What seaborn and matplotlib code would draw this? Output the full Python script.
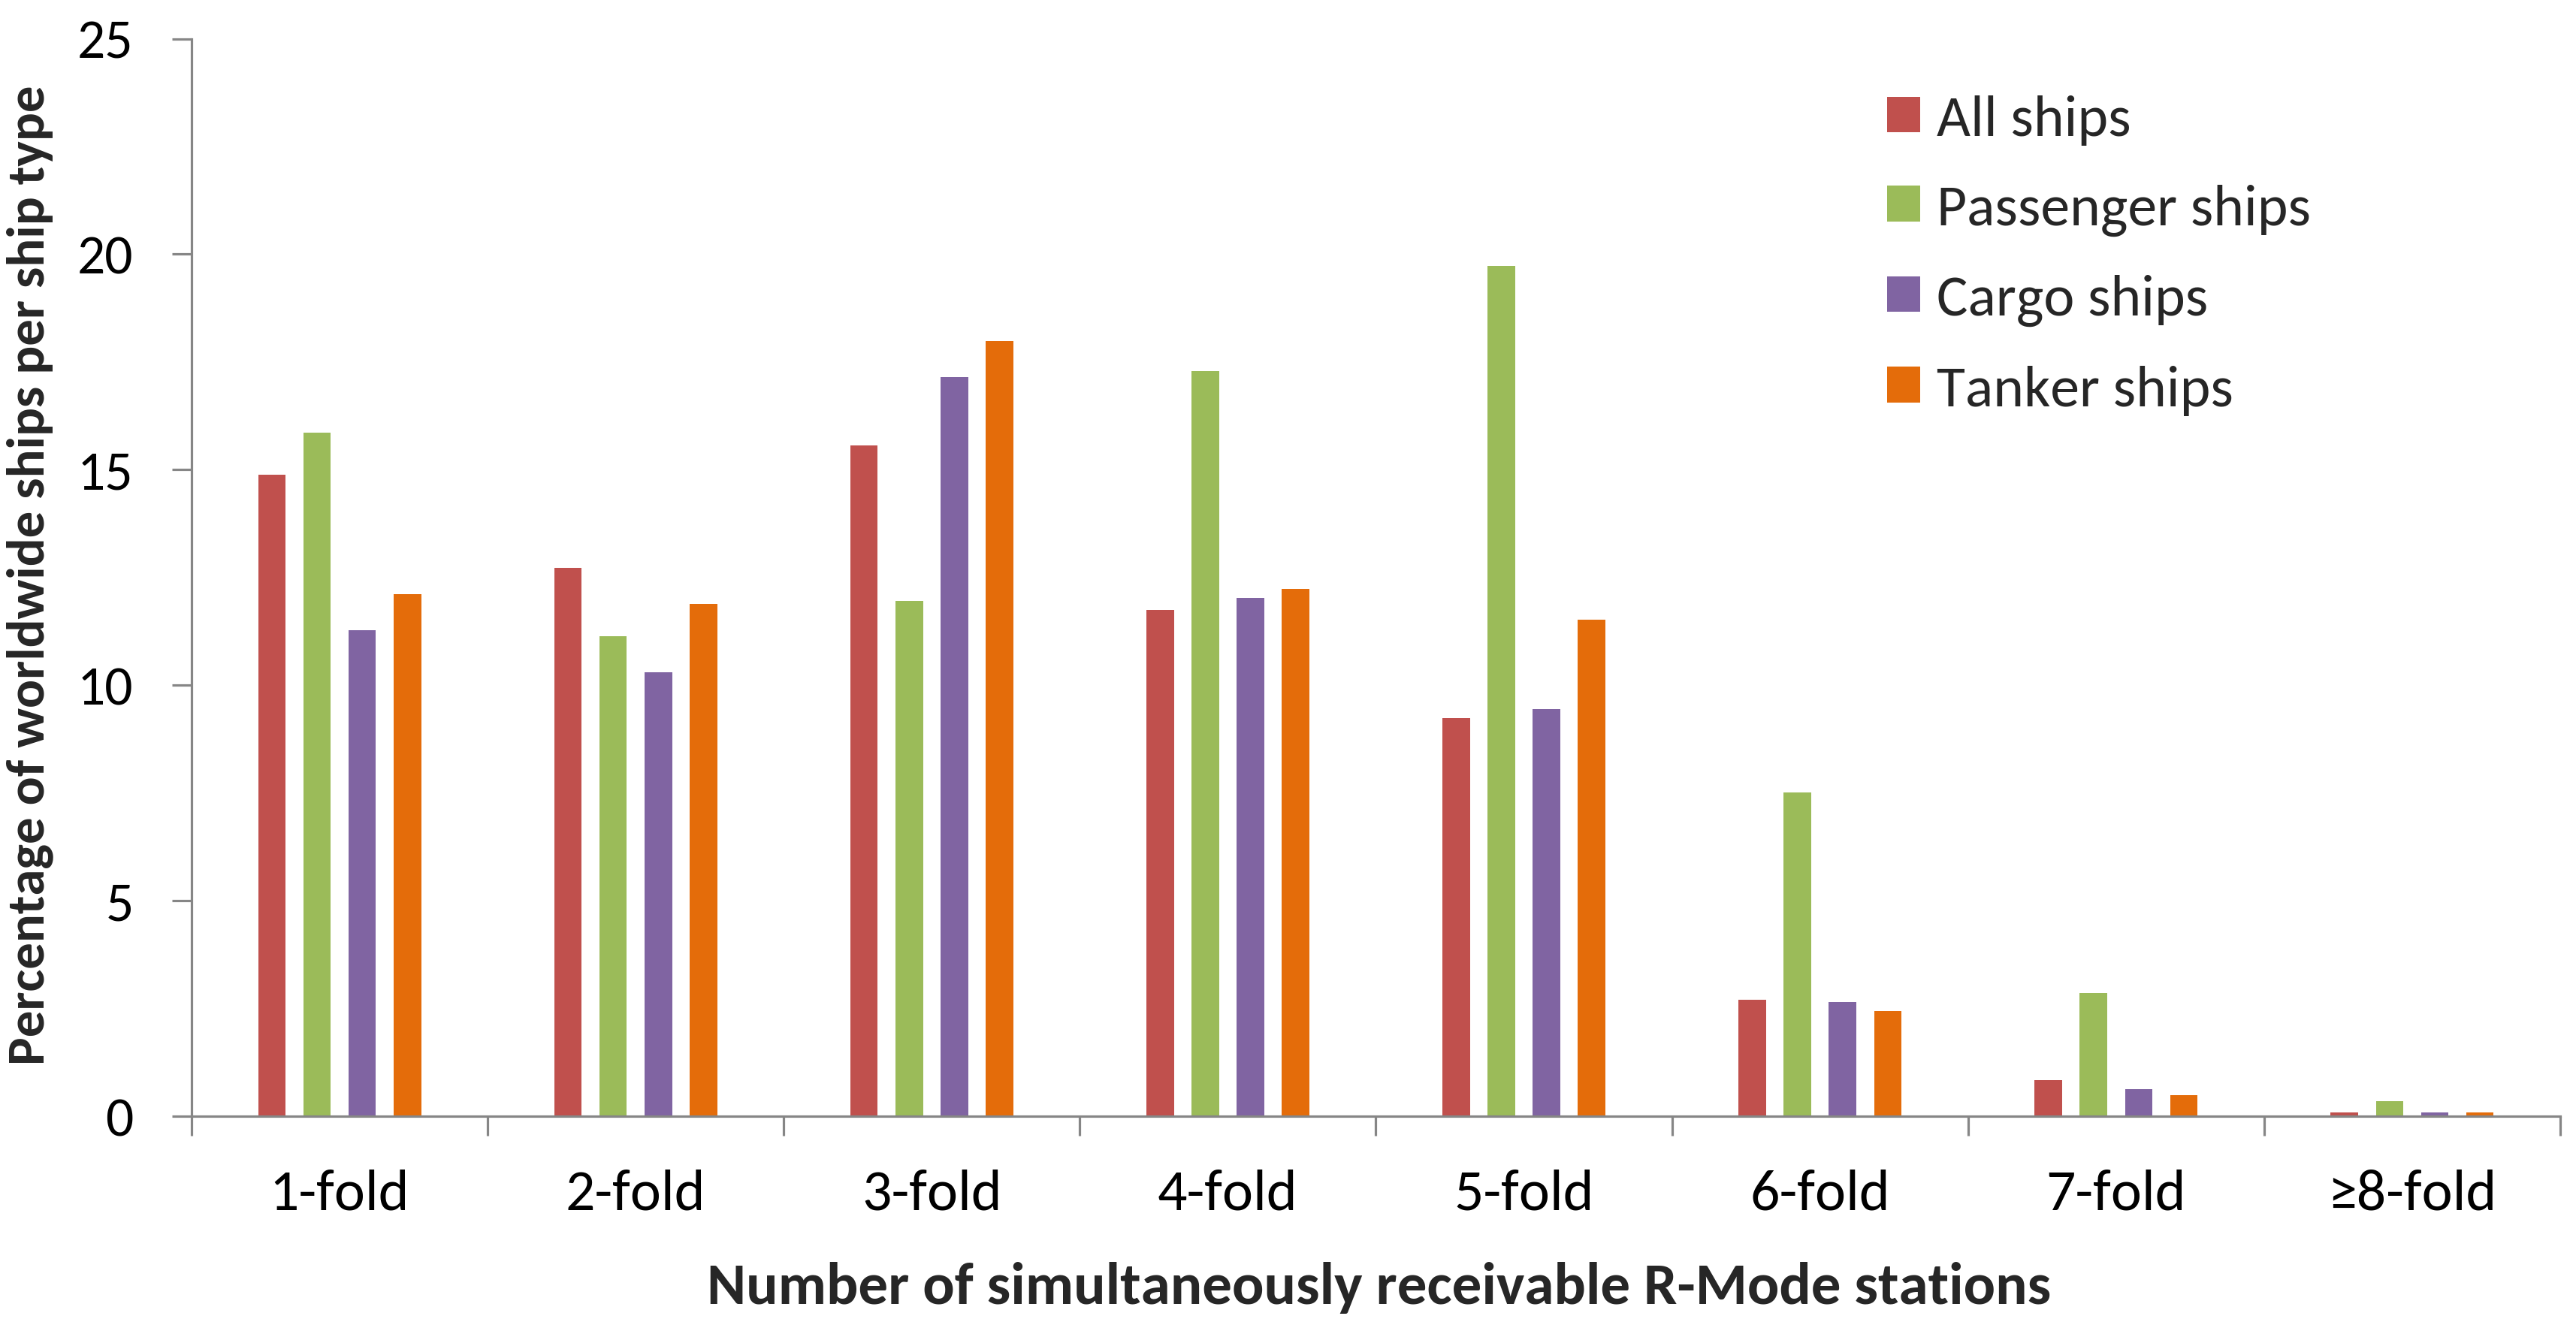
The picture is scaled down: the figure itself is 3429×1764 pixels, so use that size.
import matplotlib
matplotlib.use("Agg")
import matplotlib.pyplot as plt
import seaborn as sns
import pandas as pd

categories = ["1-fold", "2-fold", "3-fold", "4-fold", "5-fold", "6-fold", "7-fold", "≥8-fold"]
series_names = ["All ships", "Passenger ships", "Cargo ships", "Tanker ships"]
all_ships = [14.88, 12.73, 15.56, 11.75, 9.24, 2.71, 0.84, 0.08]
passenger_ships = [15.86, 11.13, 11.95, 17.29, 19.72, 7.51, 2.85, 0.35]
cargo_ships = [11.27, 10.30, 17.15, 12.03, 9.45, 2.65, 0.63, 0.08]
tanker_ships = [12.11, 11.89, 17.99, 12.23, 11.52, 2.44, 0.49, 0.08]
colors = ["#C0504D", "#9BBB59", "#8064A2", "#E46C0A"]
y_ticks = [0, 5, 10, 15, 20, 25]
x_label = "Number of simultaneously receivable R-Mode stations"
y_label = "Percentage of worldwide ships per ship type"

rows = []
for name, vals in zip(series_names, [all_ships, passenger_ships, cargo_ships, tanker_ships]):
    for cat, v in zip(categories, vals):
        rows.append({"fold": cat, "pct": v, "type": name})
df = pd.DataFrame(rows)

sns.set_theme(style="white")
fam = ["Carlito", "Lato", "DejaVu Sans"]
plt.rcParams["font.family"] = fam

W, H = 3430, 1765
fig = plt.figure(figsize=(W / 100, H / 100), dpi=100)
ax = fig.add_axes([255 / W, 1 - 1487 / H, (3408 - 255) / W, (1487 - 52.5) / H])

sns.barplot(data=df, x="fold", y="pct", hue="type", order=categories,
            hue_order=series_names, palette=colors, width=0.61, gap=0.39,
            saturation=1, ax=ax, linewidth=0)

grey = "#868686"
ax.set_ylim(0, 25)
ax.set_xlim(-0.5, len(categories) - 0.5)
for s in ["top", "right"]:
    ax.spines[s].set_visible(False)
for s in ["left", "bottom"]:
    ax.spines[s].set_color(grey)
    ax.spines[s].set_linewidth(2.3)

ax.set_yticks(y_ticks)
ax.set_yticklabels([str(t) for t in y_ticks])
ax.tick_params(axis="y", which="major", direction="out", length=18.7, width=2.3,
               color=grey, pad=37, labelsize=53, labelcolor="black", left=True)

ax.set_xticks(range(len(categories)))
ax.set_xticklabels(categories)
ax.set_xticks([i - 0.5 for i in range(len(categories) + 1)], minor=True)
ax.tick_params(axis="x", which="major", length=0, pad=50, labelsize=56, labelcolor="black")
ax.tick_params(axis="x", which="minor", direction="out", length=18.7, width=2.3,
               color=grey, bottom=True)
ax.set_xlabel("")
ax.set_ylabel("")

handles, labels = ax.get_legend_handles_labels()
ax.legend(handles, labels, loc="upper left", bbox_to_anchor=(2512 / W, 1 - 127 / H),
          bbox_transform=fig.transFigure, frameon=False, fontsize=56,
          handlelength=0.566, handleheight=0.566, handletextpad=0.28,
          labelspacing=0.66, borderpad=0, borderaxespad=0)

fig.text(1836 / W, 1 - 1736 / H, x_label, ha="center", va="baseline",
         fontsize=57, fontweight="bold", family=fam)
fig.text(40 / W, 1 - 766 / H, y_label, ha="center", va="center", rotation=90,
         fontsize=51, fontweight="bold", family=fam)

fig.savefig("out.png", dpi=100, facecolor="white")
